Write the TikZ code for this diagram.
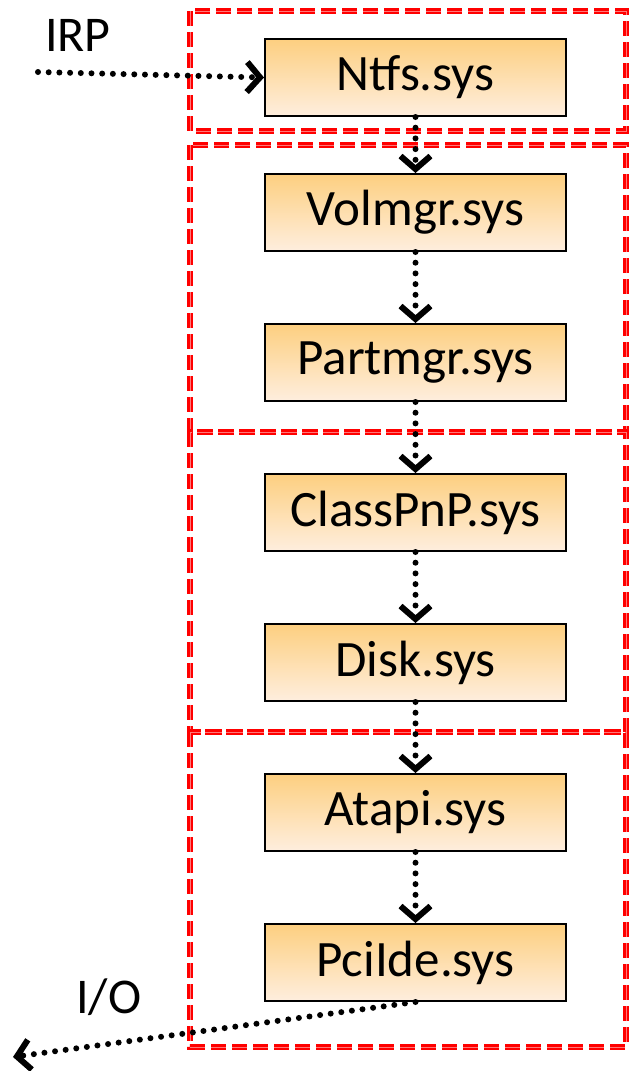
\documentclass[tikz,border=0pt]{standalone}
\usepackage{fontspec}
\setmainfont{Carlito}
\usetikzlibrary{arrows.meta}
\begin{document}
\begin{tikzpicture}[x=1pt,y=-1pt,
  drvbox/.style={draw=black, line width=2pt, minimum width=301pt, minimum height=77pt,
    top color={rgb,255:red,253;green,207;blue,128}, bottom color={rgb,255:red,254;green,238;blue,222},
    font=\fontsize{51}{56}\selectfont, inner sep=0pt},
  grp/.style={draw=red, line width=2.2pt, double={rgb,255:red,255;green,120;blue,120}, double distance=0.7pt,
    dash pattern=on 15pt off 6pt},
  flow/.style={line width=6pt, line cap=round, dash pattern=on 0pt off 10.7pt,
    -{Straight Barb[length=13pt,width=30pt,line width=6pt]}},
  lbl/.style={font=\fontsize{50}{56}\selectfont, inner sep=0pt}]
\useasboundingbox (0,0) rectangle (631,1071);
\fill[white] (0,0) rectangle (631,1071);
% groups
\draw[grp] (190,11) rectangle (626,131);
\draw[grp] (190,145) rectangle (626,432);
\draw[grp] (190,432) rectangle (626,732);
\draw[grp] (190,732) rectangle (626,1047);
% drivers
\node[drvbox] (ntfs) at (415.5,77.5) {Ntfs.sys};
\node[drvbox] (vol) at (415.5,212.5) {Volmgr.sys};
\node[drvbox] (part) at (415.5,362.5) {Partmgr.sys};
\node[drvbox] (class) at (415.5,512.5) {ClassPnP.sys};
\node[drvbox] (disk) at (415.5,662.5) {Disk.sys};
\node[drvbox] (atapi) at (415.5,812.5) {Atapi.sys};
\node[drvbox] (pci) at (415.5,962.5) {PciIde.sys};
% labels
\node[lbl, anchor=base west] (irp) at (45,51) {IRP};
\node[lbl, anchor=base west] (io) at (76,1013) {I/O};
\coordinate (irpstart) at (38,72);
\coordinate (ioend) at (13,1057);
% connectors
\draw[flow] (irpstart) -- (ntfs.west);
\draw[flow] (ntfs.south) -- (vol.north);
\draw[flow] (vol.south) -- (part.north);
\draw[flow] (part.south) -- (class.north);
\draw[flow] (class.south) -- (disk.north);
\draw[flow] (disk.south) -- (atapi.north);
\draw[flow] (atapi.south) -- (pci.north);
\draw[flow] (pci.south) -- (ioend);
\end{tikzpicture}
\end{document}
